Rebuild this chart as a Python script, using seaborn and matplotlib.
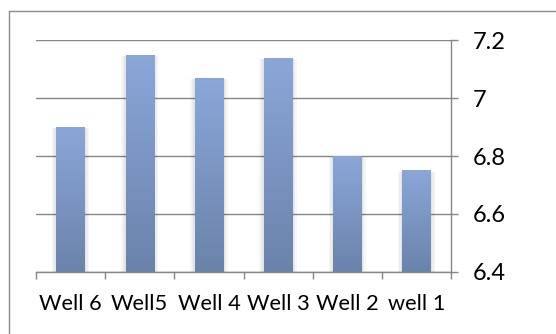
import numpy as np
import pandas as pd
import matplotlib
matplotlib.use("Agg")
import matplotlib.pyplot as plt
import seaborn as sns
from matplotlib.colors import LinearSegmentedColormap
from matplotlib.lines import Line2D
from matplotlib.patches import Rectangle

# pH readings per well
wells = ["Well 6", "Well5", "Well 4", "Well 3", "Well 2", "well 1"]
ph = [6.9, 7.15, 7.07, 7.14, 6.8, 6.75]
y_ticks = [6.4, 6.6, 6.8, 7.0, 7.2]
y_tick_labels = ["6.4", "6.6", "6.8", "7", "7.2"]

sns.set_theme(style="white")
plt.rcParams["font.family"] = ["Lato", "DejaVu Sans"]

W, H = 556, 334
fig = plt.figure(figsize=(W / 100, H / 100), dpi=100)
ax = fig.add_axes([36 / W, 62.3 / H, 415 / W, 231.4 / H])

grid_col = "#868686"
ax.set_axisbelow(True)
ax.yaxis.grid(True, color=grid_col, lw=1)

df = pd.DataFrame({"well": wells, "ph": ph})
sns.barplot(data=df, x="well", y="ph", ax=ax, color="#6d86af",
            width=0.41, saturation=1, zorder=2)

# vertical gradient fill for each bar, with a soft side shadow
grad = LinearSegmentedColormap.from_list("bar", ["#6a83ab", "#8aa7d8"])
g = np.linspace(0, 1, 256).reshape(-1, 1)
px = 1.0 / 69.2  # one pixel in category units
bars = list(ax.patches)
for p in bars:
    x0 = p.get_x()
    w = p.get_width()
    top = p.get_y() + p.get_height()
    p.set_linewidth(0)
    for k in (1.5, 3, 4.5):
        ax.add_patch(Rectangle((x0 - k * px, 6.3), w + 2 * k * px,
                               top - 6.3 - 0.004, color="black",
                               alpha=0.035, lw=0, zorder=1.8))
    im = ax.imshow(g, cmap=grad, origin="lower", aspect="auto",
                   extent=[x0, x0 + w, 6.4, top], zorder=2.5,
                   interpolation="bilinear")
    im.set_clip_path(p)

ax.set_xlim(-0.5, len(wells) - 0.5)
ax.set_ylim(6.4, 7.2)
ax.set_yticks(y_ticks)
ax.set_yticklabels(y_tick_labels)
ax.set_xlabel("")
ax.set_ylabel("")

ax.yaxis.tick_right()
ax.tick_params(axis="y", length=5, width=1, color=grid_col, direction="out",
               pad=11, labelsize=17, labelcolor="black", right=True, left=False)
ax.set_xticks(np.arange(-0.5, len(wells), 1), minor=True)
ax.tick_params(axis="x", which="major", length=0, pad=16, labelsize=15.7,
               labelcolor="black")
ax.tick_params(axis="x", which="minor", length=5, width=1, color=grid_col,
               direction="out", bottom=True)

for side in ["left", "top"]:
    ax.spines[side].set_visible(False)
for side in ["right", "bottom"]:
    ax.spines[side].set_visible(True)
    ax.spines[side].set_color(grid_col)
    ax.spines[side].set_linewidth(1)
    ax.spines[side].set_zorder(3)

# chart-area frame
fx, fy = 8.5 / W, 1 - 10.5 / H
fig.add_artist(Line2D([fx, 1.05], [fy, fy], transform=fig.transFigure,
                      color="#8a8a8a", lw=1))
fig.add_artist(Line2D([fx, fx], [-0.05, fy], transform=fig.transFigure,
                      color="#8a8a8a", lw=1))

fig.savefig("out.png", dpi=100)
